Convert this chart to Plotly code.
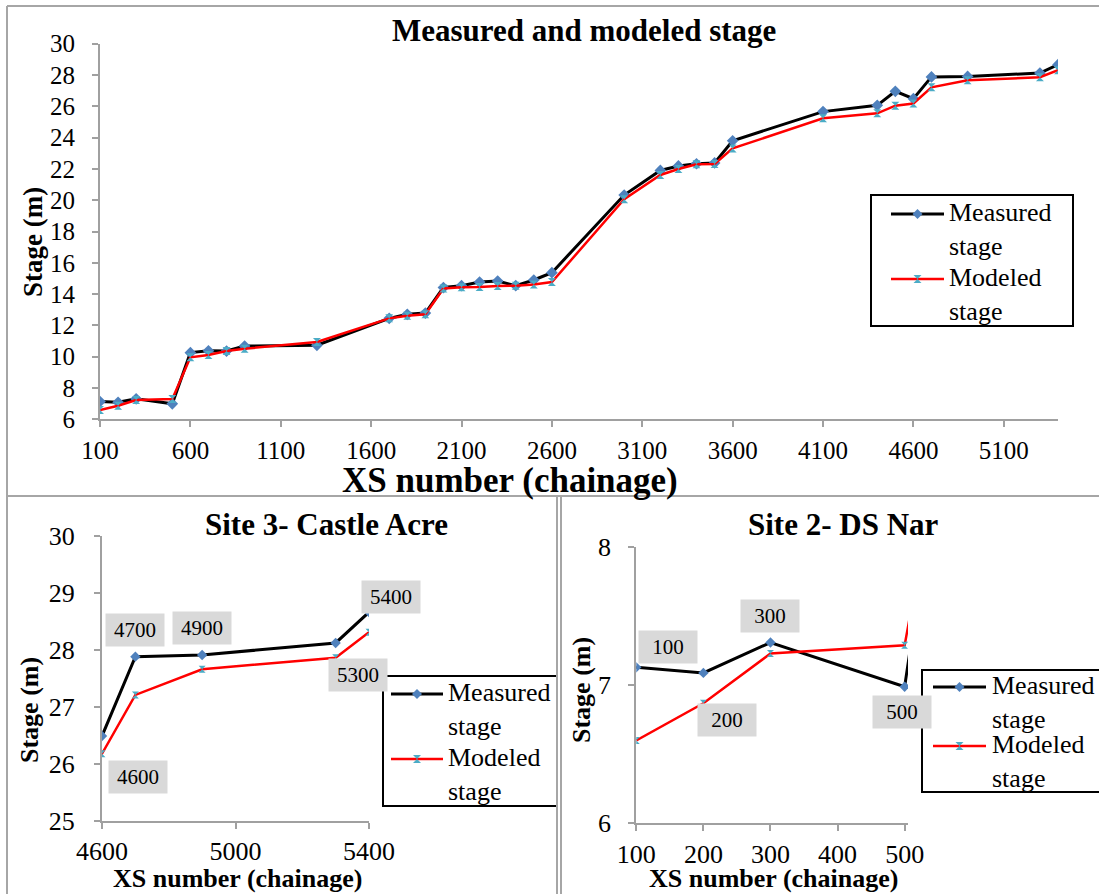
import plotly.graph_objects as go

# Cross-section chainage (XS number) and stage values (m)
xs_chainage = [100, 200, 300, 500, 600, 700, 800, 900, 1300, 1700, 1800, 1900,
               2000, 2100, 2200, 2300, 2400, 2500, 2600, 3000, 3200, 3300, 3400,
               3500, 3600, 4100, 4400, 4500, 4600, 4700, 4900, 5300, 5400]
measured_stage = [7.13, 7.09, 7.31, 6.99, 10.26, 10.38, 10.36, 10.68, 10.73, 12.45,
                  12.71, 12.79, 14.42, 14.54, 14.77, 14.83, 14.54, 14.90, 15.37,
                  20.33, 21.90, 22.19, 22.33, 22.38, 23.80, 25.66, 26.06, 26.96,
                  26.49, 27.88, 27.91, 28.12, 28.66]
modeled_stage = [6.60, 6.87, 7.23, 7.29, 9.96, 10.11, 10.36, 10.51, 10.94, 12.45,
                 12.62, 12.71, 14.36, 14.43, 14.45, 14.52, 14.54, 14.62, 14.77,
                 20.06, 21.61, 21.99, 22.29, 22.31, 23.31, 25.23, 25.55, 26.04,
                 26.18, 27.21, 27.66, 27.86, 28.31]

# Chainages labelled in the two site panels, and which series each label sits on
castle_acre_labels = [(4600, "modeled"), (4700, "measured"), (4900, "measured"),
                      (5300, "modeled"), (5400, "measured")]
ds_nar_labels = [(100, "measured"), (200, "modeled"), (300, "measured"),
                 (500, "measured")]

W, H = 1099, 894
FONT = "'Liberation Serif', 'Times New Roman', 'DejaVu Serif', serif"
AXIS_GREY = "#a0a0a0"
BORDER_GREY = "#a6a6a6"
BLUE = "#4f81bd"
CYAN = "#4bacc6"


def px(p):
    return p / W


def py(p):
    return 1 - p / H


fig = go.Figure()

panels = [
    # (xaxis, yaxis, marker size)
    ("x", "y", 9),
    ("x2", "y2", 8),
    ("x3", "y3", 8),
]
for xa, ya, msize in panels:
    fig.add_trace(go.Scatter(
        x=xs_chainage, y=measured_stage, xaxis=xa, yaxis=ya, mode="lines+markers",
        name="Measured stage", showlegend=False,
        line=dict(color="black", width=3),
        marker=dict(symbol="diamond", size=msize, color=BLUE),
    ))
    fig.add_trace(go.Scatter(
        x=xs_chainage, y=modeled_stage, xaxis=xa, yaxis=ya, mode="lines+markers",
        name="Modeled stage", showlegend=False,
        line=dict(color="red", width=2.5),
        marker=dict(symbol="hourglass", size=msize - 1, color=CYAN),
    ))


def axis_style(size):
    return dict(
        showgrid=False, zeroline=False, showline=True, linecolor=AXIS_GREY,
        linewidth=2, ticks="outside", ticklen=6, tickwidth=2, tickcolor=AXIS_GREY,
        tickfont=dict(family=FONT, size=size, color="black"), automargin=False,
    )


# Main profile
fig.update_layout(
    xaxis=dict(domain=[px(100), px(1058)], range=[100, 5400], tick0=100, dtick=500,
               anchor="y", ticklabelstandoff=2, **axis_style(25)),
    yaxis=dict(domain=[py(419.3), py(43.7)], range=[6, 30], dtick=2,
               anchor="x", ticklabelstandoff=12, **axis_style(25)),
    # Site 3 - Castle Acre
    xaxis2=dict(domain=[px(102), px(369)], range=[4600, 5400], tick0=4600, dtick=400,
                anchor="y2", ticklabelstandoff=0, **axis_style(26)),
    yaxis2=dict(domain=[py(821), py(535.7)], range=[25, 30], dtick=1,
                anchor="x2", ticklabelstandoff=14, **axis_style(26)),
    # Site 2 - DS Nar
    xaxis3=dict(domain=[px(636.3), px(908)], range=[100, 505], tick0=100, dtick=100,
                anchor="y3", ticklabelstandoff=0, **axis_style(26)),
    yaxis3=dict(domain=[py(823.3), py(547.3)], range=[6, 8], dtick=1,
                anchor="x3", ticklabelstandoff=12, **axis_style(26)),
)

annotations = []


def text_at(x, y, text, size, bold=False, angle=0, xanchor="center"):
    annotations.append(dict(
        x=px(x), y=py(y), xref="paper", yref="paper", showarrow=False,
        text=f"<b>{text}</b>" if bold else text, textangle=angle,
        xanchor=xanchor, yanchor="middle",
        font=dict(family=FONT, size=size, color="black"),
    ))


# Titles
text_at(584, 31, "Measured and modeled stage", 31, bold=True)
text_at(510, 480, "XS number (chainage)", 35, bold=True)
text_at(33, 242, "Stage (m)", 27, bold=True, angle=-90)

text_at(327, 524, "Site 3- Castle Acre", 31, bold=True)
text_at(237, 878, "XS number (chainage)", 26, bold=True)
text_at(29, 710, "Stage (m)", 26, bold=True, angle=-90)

text_at(843, 524, "Site 2- DS Nar", 31, bold=True)
text_at(773, 878, "XS number (chainage)", 26, bold=True)
text_at(581, 690, "Stage (m)", 26, bold=True, angle=-90)

# Grey data labels showing the chainage of selected points
series_values = {"measured": measured_stage, "modeled": modeled_stage}
label_offsets = {
    ("x2", 4600): (36, -23), ("x2", 4700): (0, 27), ("x2", 4900): (0, 27),
    ("x2", 5300): (22, -17), ("x2", 5400): (22, 15),
    ("x3", 100): (32, 20), ("x3", 200): (24, -17), ("x3", 300): (0, 27),
    ("x3", 500): (-3, -25),
}
for xa, ya, labels in (("x2", "y2", castle_acre_labels), ("x3", "y3", ds_nar_labels)):
    for xv, series in labels:
        yv = series_values[series][xs_chainage.index(xv)]
        dx, dy = label_offsets[(xa, xv)]
        annotations.append(dict(
            x=xv, y=yv, xref=xa, yref=ya, showarrow=False, text=str(xv),
            xshift=dx, yshift=dy, bgcolor="#d9d9d9", borderpad=4, width=50,
            font=dict(family=FONT, size=21, color="black"),
        ))

shapes = []


def seg(x0, y0, x1, y1, color, width):
    shapes.append(dict(type="line", xref="paper", yref="paper",
                       x0=px(x0), y0=py(y0), x1=px(x1), y1=py(y1),
                       line=dict(color=color, width=width)))


def legend(box, line_x0, line_x1, text_x, row1_y, row2_y, font_size=26):
    bx0, by0, bx1, by1 = box
    shapes.append(dict(type="rect", xref="paper", yref="paper",
                       x0=px(bx0), y0=py(by1), x1=px(bx1), y1=py(by0),
                       line=dict(color="black", width=2), fillcolor="white"))
    mid = (line_x0 + line_x1) / 2
    entries = [(row1_y, "black", 3, BLUE, "M0,-5L5,0L0,5L-5,0Z", "Measured<br>stage"),
               (row2_y, "red", 2.5, CYAN, "M-4,-4H4L-4,4H4Z", "Modeled<br>stage")]
    for ry, lc, lw, mc, path, label in entries:
        seg(line_x0, ry, line_x1, ry, lc, lw)
        shapes.append(dict(type="path", xref="paper", yref="paper",
                           xsizemode="pixel", ysizemode="pixel",
                           xanchor=px(mid), yanchor=py(ry), path=path,
                           fillcolor=mc, line=dict(width=0)))
        annotations.append(dict(
            x=px(text_x), y=py(ry - 18), xref="paper", yref="paper", showarrow=False,
            text=label, xanchor="left", yanchor="top", align="left",
            font=dict(family=FONT, size=font_size, color="black"),
        ))


legend((871, 195, 1073, 326), 891, 944, 947, 214, 279)
legend((383, 676, 557, 806), 391, 443, 446, 694, 759)
legend((922, 670, 1120, 792), 933, 986, 990, 687, 746)

# Panel frames
seg(7, 6, 1099, 6, BORDER_GREY, 2)
seg(7, 6, 7, 894, BORDER_GREY, 2)
seg(7, 496, 1099, 496, BORDER_GREY, 2)
seg(557, 496, 557, 894, BORDER_GREY, 2)
seg(561, 496, 561, 894, BORDER_GREY, 2)

fig.update_layout(
    width=W, height=H, margin=dict(l=0, r=0, t=0, b=0, autoexpand=False),
    paper_bgcolor="white", plot_bgcolor="white",
    showlegend=False, annotations=annotations, shapes=shapes,
)

fig.write_html("out.html")
